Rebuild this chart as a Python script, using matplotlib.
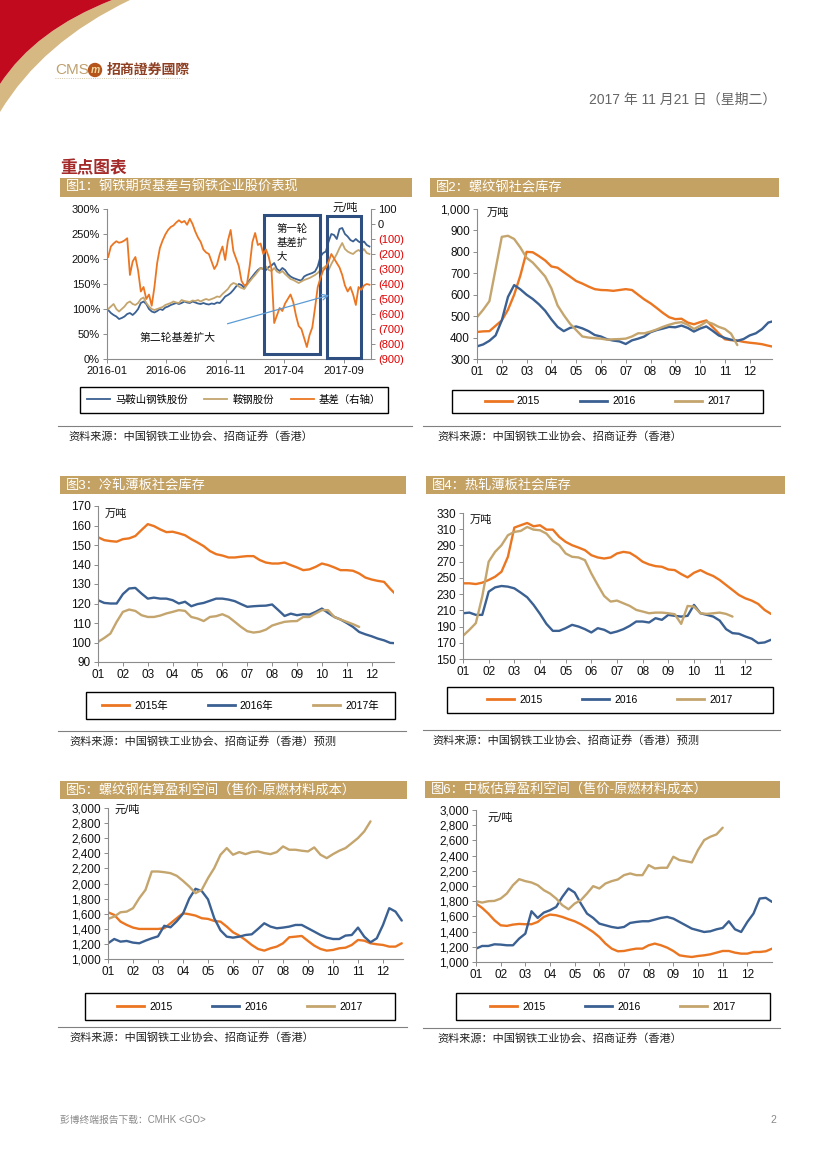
import numpy as np
import pandas as pd
import matplotlib
matplotlib.use('Agg')
import matplotlib.pyplot as plt
import matplotlib.patches as mpatches
import matplotlib.dates as mdates
from matplotlib.path import Path
from matplotlib.lines import Line2D
from matplotlib.ticker import MultipleLocator, PercentFormatter, StrMethodFormatter

plt.rcParams['font.family'] = ['Liberation Sans', 'Noto Sans CJK SC']
plt.rcParams['axes.unicode_minus'] = False

# ---- data ----
# fig1: weekly, from 2016-01-04
masteel = [98, 92, 88, 85, 80, 82, 85, 90, 92, 88, 93, 100, 112, 115, 110, 100, 95, 93, 96, 100,
           98, 103, 105, 108, 110, 112, 110, 112, 115, 113, 112, 115, 113, 111, 110, 112, 110, 109, 111, 110,
           113, 112, 118, 125, 128, 132, 138, 145, 150, 148, 142, 150, 158, 165, 172, 178, 182, 180, 178, 184,
           187, 192, 180, 176, 182, 178, 170, 165, 162, 160, 158, 157, 165, 168, 170, 172, 175, 185, 205, 212,
           215, 235, 250, 248, 240, 260, 262, 250, 245, 238, 235, 240, 235, 232, 235, 228, 225]
angang = [100, 105, 110, 100, 95, 100, 105, 112, 115, 110, 108, 112, 120, 123, 112, 105, 100, 98, 100, 102,
          104, 108, 110, 112, 115, 113, 112, 118, 116, 115, 114, 117, 116, 118, 115, 118, 120, 118, 120, 122,
          125, 124, 130, 135, 140, 148, 152, 150, 145, 142, 140, 148, 155, 162, 168, 175, 182, 180, 185, 178,
          176, 182, 175, 172, 176, 170, 165, 160, 158, 155, 152, 155, 158, 160, 162, 165, 168, 172, 178, 182,
          186, 178, 190, 200, 210, 222, 232, 220, 215, 212, 210, 215, 218, 214, 220, 212, 210]
basis = [-220, -150, -130, -115, -125, -120, -110, -95, -340, -250, -220, -310, -450, -420, -500, -470, -545, -420, -260, -160,
         -110, -70, -40, -20, -10, 10, 25, 10, 20, -5, 35, 0, -50, -90, -120, -170, -190, -200, -250, -300,
         -270, -200, -150, -240, -110, -40, -180, -230, -280, -380, -410, -400, -280, -120, -60, -140, -130, -200, -170, -220,
         -300, -660, -610, -560, -580, -530, -500, -470, -520, -610, -680, -700, -760, -820, -740, -690, -560, -420, -360, -310,
         -290, -250, -200, -230, -260, -290, -340, -410, -450, -420, -470, -540, -420, -440, -410, -400, -405]
fig1_labels = ['马鞍山钢铁股份', '鞍钢股份', '基差（右轴）']
fig1_xticks = ['2016-01', '2016-06', '2016-11', '2017-04', '2017-09']

months = ['01', '02', '03', '04', '05', '06', '07', '08', '09', '10', '11', '12']
years = ['2015', '2016', '2017']
years_cn = ['2015年', '2016年', '2017年']

# fig2: rebar inventory (4 points per month)
rebar_2015 = [426, 429, 430, 455, 480, 530, 600, 690, 800, 798, 780, 760, 732, 726, 705, 685, 664, 652, 638, 626,
              622, 621, 618, 622, 626, 622, 600, 578, 560, 538, 515, 495, 486, 488, 470, 462, 472, 480, 450, 420,
              392, 388, 386, 380, 376, 373, 369, 362, 356]
rebar_2016 = [359, 368, 385, 410, 480, 590, 645, 625, 600, 580, 555, 525, 485, 450, 430, 445, 452, 443, 430, 412,
              405, 392, 386, 382, 370, 387, 395, 405, 425, 435, 442, 450, 448, 456, 445, 428, 442, 452, 432, 410,
              398, 390, 385, 393, 410, 420, 440, 470, 478]
rebar_2017 = [495, 530, 570, 720, 870, 875, 860, 820, 772, 750, 718, 685, 630, 550, 505, 465, 435, 405, 400, 397,
              395, 390, 392, 393, 395, 405, 420, 420, 428, 438, 450, 460, 468, 472, 460, 440, 455, 474, 465, 450,
              440, 418, 365]

# fig3: cold-rolled inventory
cr_2015 = [154, 152.5, 152, 151.7, 153, 153.4, 154.6, 157.7, 160.7, 159.7, 158, 156.6, 156.8, 156, 155, 153, 151.3, 149.4, 146.9, 145.3,
           144.6, 143.6, 143.6, 144, 144.3, 144.3, 142.3, 141, 140.5, 140.5, 141, 139.7, 138.5, 137.1, 137.5, 138.8, 140.5, 139.7, 138.5, 137.1,
           137.1, 136.8, 135.4, 133.3, 132.3, 131.6, 131.1, 127.5, 124.3]
cr_2016 = [121.7, 120.3, 120, 120, 124.8, 127.7, 128, 125.1, 122.5, 123, 122.5, 122.5, 121.7, 120, 120.9, 118.6, 119.7, 120.3, 121.4, 122.5,
           122.5, 122, 121.2, 119.7, 118.3, 118.6, 118.8, 118.9, 119.5, 116.6, 113.6, 114.8, 114, 114.5, 114.3, 115.7, 117.4, 115.2, 113.1, 111.8,
           110, 108, 105.4, 104.2, 103.2, 102, 101.1, 99.8, 99.6]
cr_2017 = [100.3, 102.3, 104.6, 110.6, 115.7, 116.9, 116.2, 114, 113.1, 113.1, 113.8, 114.9, 115.7, 116.6, 116.2, 113.1, 112.3, 111, 113.1, 113.5,
           114.5, 113.1, 110.6, 108, 105.8, 105.1, 105.5, 106.6, 108.7, 109.7, 110.6, 110.9, 111, 113.1, 113.1, 114.9, 116.6, 116.6, 113.1, 111.8,
           110.6, 109.4, 108]

# fig4: hot-rolled inventory
hr_2015 = [243.3, 243.3, 242.4, 244.1, 247.4, 251.4, 257.6, 276, 312, 314.9, 317.7, 313.6, 314.9, 309.5, 309.5, 300.5, 294.4, 290.3, 287.4, 284.2,
           278, 275.2, 273.9, 275.2, 280.1, 282.1, 280.9, 276, 269.9, 266.6, 264.5, 263.7, 260.4, 259.6, 254.7, 250.6, 256.3, 259.6, 255.5, 252.3,
           247.4, 241.2, 235.1, 228.9, 224.8, 222, 217.9, 210.5, 205.6]
hr_2016 = [206.4, 207.2, 204.4, 204.4, 233, 238.3, 240, 239.2, 237.1, 231.8, 226.1, 216.7, 205.6, 193.3, 184.7, 184.7, 188, 192.1, 190, 186.8,
           182.7, 188, 186, 181.9, 183.9, 186.8, 190.9, 196.2, 196.2, 195, 200.3, 198.3, 204.4, 203.2, 202.3, 203.2, 216.7, 206.4, 204.4, 202.3,
           197.4, 186.8, 181.9, 181.1, 177.8, 175, 169.6, 170.4, 173.7]
hr_2017 = [178.6, 186, 194.2, 227, 270, 282.1, 290.3, 302.6, 306.7, 307.9, 312.8, 309.5, 308.7, 304.6, 295.6, 290.3, 280.1, 276, 275.2, 271.9,
           255.5, 241.2, 227.7, 220.8, 222, 218.7, 215.4, 210.5, 208.5, 206.4, 207.2, 207.2, 206.4, 205.2, 193.3, 215.4, 214.6, 206.4, 205.6, 206.4,
           207.2, 205.6, 202.3]

# fig5: rebar margin
p5_2015 = [1619, 1584, 1495, 1451, 1416, 1398, 1398, 1398, 1398, 1407, 1473, 1540, 1606, 1593, 1575, 1540, 1531, 1504, 1495, 1429,
           1354, 1310, 1252, 1186, 1133, 1111, 1142, 1164, 1208, 1288, 1296, 1305, 1239, 1177, 1133, 1111, 1120, 1142, 1150, 1186,
           1252, 1243, 1208, 1195, 1186, 1164, 1164, 1208]
p5_2016 = [1208, 1265, 1230, 1239, 1217, 1208, 1243, 1274, 1300, 1440, 1420, 1500, 1600, 1800, 1930, 1900, 1790, 1540, 1380, 1296,
           1283, 1296, 1318, 1327, 1398, 1473, 1429, 1407, 1416, 1429, 1451, 1451, 1407, 1363, 1318, 1283, 1265, 1265, 1310, 1318,
           1416, 1296, 1221, 1274, 1451, 1673, 1628, 1509]
p5_2017 = [1531, 1562, 1619, 1628, 1673, 1805, 1916, 2159, 2159, 2150, 2137, 2102, 2035, 1960, 1872, 1916, 2071, 2204, 2381, 2469,
           2381, 2416, 2389, 2416, 2425, 2403, 2389, 2416, 2491, 2447, 2447, 2434, 2425, 2478, 2381, 2336, 2389, 2434, 2469, 2535,
           2602, 2690, 2823]

# fig6: plate margin
p6_2015 = [1769, 1712, 1637, 1549, 1483, 1475, 1492, 1501, 1497, 1497, 1527, 1593, 1624, 1615, 1593, 1563, 1536, 1497, 1448, 1395,
           1329, 1242, 1176, 1141, 1145, 1162, 1176, 1176, 1220, 1242, 1220, 1189, 1145, 1088, 1075, 1066, 1079, 1088, 1101, 1123,
           1145, 1145, 1123, 1110, 1110, 1132, 1132, 1141, 1176]
p6_2016 = [1176, 1211, 1211, 1233, 1229, 1220, 1220, 1308, 1373, 1668, 1580, 1650, 1681, 1725, 1857, 1967, 1914, 1769, 1637, 1580,
           1505, 1483, 1461, 1448, 1461, 1514, 1527, 1536, 1536, 1558, 1580, 1593, 1571, 1527, 1483, 1439, 1417, 1395, 1404, 1430,
           1448, 1536, 1430, 1395, 1527, 1637, 1835, 1844, 1791]
p6_2017 = [1800, 1782, 1800, 1804, 1835, 1901, 2011, 2090, 2064, 2046, 2011, 1945, 1901, 1835, 1747, 1694, 1769, 1813, 1901, 1998,
           1967, 2033, 2064, 2086, 2143, 2165, 2143, 2143, 2275, 2231, 2240, 2240, 2385, 2341, 2327, 2310, 2473, 2604, 2648, 2679,
           2767]

ORANGE = '#EB7622'
BLUE = '#3B6092'
TAN = '#C4A56E'
GOLD = '#C4A264'
SPINE = '#8C8C8C'
COLORS = [ORANGE, BLUE, TAN]

W, H = 828, 1169
fig = plt.figure(figsize=(W / 100, H / 100), dpi=100)


def fx(x):
    return x / W


def fy(y):
    return 1 - y / H


def add_ax(l, t, r, b):
    return fig.add_axes([fx(l), fy(b), (r - l) / W, (b - t) / H])


def txt(x, y, s, **kw):
    kw.setdefault('va', 'center')
    return fig.text(fx(x), fy(y), s, **kw)


def rect(l, t, r, b, **kw):
    p = mpatches.Rectangle((fx(l), fy(b)), (r - l) / W, (b - t) / H, transform=fig.transFigure, **kw)
    fig.add_artist(p)


def style(ax):
    for s in ['top', 'right']:
        ax.spines[s].set_visible(False)
    for s in ['left', 'bottom']:
        ax.spines[s].set_color(SPINE)
        ax.spines[s].set_linewidth(0.8)
    ax.tick_params(direction='out', length=3, width=0.7, color=SPINE, labelsize=8.5, pad=2, labelcolor='#111')
    ax.patch.set_alpha(0)


def panel(bar, title, src_line, src, src_x):
    l, t, r, b = bar
    rect(l, t, r, b, color=GOLD, lw=0)
    txt(l + 6, (t + b) / 2, title, color='white', fontsize=9.5)
    fig.add_artist(Line2D([fx(src_line[0]), fx(src_line[1])], [fy(src_line[2])] * 2,
                          color='#808080', lw=0.8, transform=fig.transFigure))
    txt(src_x, src_line[2] + 10, src, fontsize=8, color='#222')


def legend_box(handles, labels, box, handlelength=2.6, colsp=3.8):
    l, t, r, b = box
    rect(l, t, r, b, facecolor='none', edgecolor='black', lw=1)
    fig.legend(handles, labels, loc='center', bbox_to_anchor=(fx((l + r) / 2), fy((t + b) / 2)),
               ncol=3, frameon=False, fontsize=7.5, handlelength=handlelength,
               columnspacing=colsp, handletextpad=0.5, borderaxespad=0)


def month_chart(box, series, ylim, ystep, xmax, unit, unit_xy, leg_box, leg_labels):
    ax = add_ax(*box)
    for vals, c in zip(series, COLORS):
        x = 1 + np.arange(len(vals)) / 4
        ax.plot(x, vals, color=c, lw=1.7, solid_capstyle='round')
    ax.set_xlim(1, xmax)
    ax.set_ylim(*ylim)
    ax.set_yticks(np.arange(ylim[0], ylim[1] + ystep / 2, ystep))
    ax.yaxis.set_major_formatter(StrMethodFormatter('{x:,.0f}'))
    ax.set_xticks(range(1, 13))
    ax.set_xticklabels(months)
    style(ax)
    txt(unit_xy[0], unit_xy[1], unit, fontsize=8, color='#111')
    handles = [Line2D([], [], color=c, lw=2) for c in COLORS]
    legend_box(handles, leg_labels, leg_box)
    return ax


# ---- header ----
def fpath(pts):
    return [(fx(a), fy(b)) for a, b in pts]


red_path = Path(fpath([(0, 0), (112, 0), (35, 30), (0, 84), (0, 0)]),
                [Path.MOVETO, Path.LINETO, Path.CURVE3, Path.CURVE3, Path.CLOSEPOLY])
gold_path = Path(fpath([(112, 0), (130, 0), (42, 42), (0, 112), (0, 84), (35, 30), (112, 0), (112, 0)]),
                 [Path.MOVETO, Path.LINETO, Path.CURVE3, Path.CURVE3, Path.LINETO, Path.CURVE3, Path.CURVE3, Path.CLOSEPOLY])
fig.add_artist(mpatches.PathPatch(gold_path, facecolor='#D6B883', lw=0, transform=fig.transFigure))
fig.add_artist(mpatches.PathPatch(red_path, facecolor='#C10A1E', lw=0, transform=fig.transFigure))

txt(55, 70, 'CMS', fontsize=11, color='#BFA070')
fig.add_artist(mpatches.Ellipse((fx(95), fy(70)), 13 / W, 13 / H, color='#B5541B', transform=fig.transFigure))
txt(95, 70, 'm', fontsize=7.5, color='#F3D9A0', ha='center', style='italic', weight='bold')
txt(107, 70, '招商證券國際', fontsize=10, color='#8E3F22', weight='bold')
fig.add_artist(Line2D([fx(55), fx(183)], [fy(78)] * 2, color='#C9B48A', lw=0.6, ls=':', transform=fig.transFigure))
txt(776, 100, '2017 年 11 月21 日（星期二）', fontsize=10, color='#666', ha='right')
txt(60, 168, '重点图表', fontsize=12, color='#A52A2A', weight='bold')

# ---- figure 1 ----
panel((60, 178, 412, 197), '图1：钢铁期货基差与钢铁企业股价表现', (58, 412, 426),
      '资料来源：中国钢铁工业协会、招商证券（香港）', 68)
d1 = pd.date_range('2016-01-04', periods=len(masteel), freq='7D')
ax1 = add_ax(107, 209, 371, 359)
ax1.plot(d1, np.array(masteel) / 100, color=BLUE, lw=1.3)
ax1.plot(d1, np.array(angang) / 100, color=TAN, lw=1.3)
ax1.set_ylim(0, 3)
ax1.yaxis.set_major_locator(MultipleLocator(0.5))
ax1.yaxis.set_major_formatter(PercentFormatter(1.0, decimals=0))
ax1.set_xlim(pd.Timestamp('2016-01-01'), pd.Timestamp('2017-11-10'))
ax1.set_xticks([pd.Timestamp(s + '-01') for s in fig1_xticks])
ax1.set_xticklabels(fig1_xticks)
style(ax1)
ax1.tick_params(labelsize=8)
ax1b = ax1.twinx()
ax1b.plot(d1, basis, color=ORANGE, lw=1.3)
ax1b.set_ylim(-900, 100)
rticks = list(range(100, -1000, -100))
ax1b.set_yticks(rticks)
ax1b.set_yticklabels([f'({-v})' if v < 0 else str(v) for v in rticks])
for lab, v in zip(ax1b.get_yticklabels(), rticks):
    lab.set_color('#E00000' if v < 0 else '#111')
for s in ['top', 'left', 'bottom']:
    ax1b.spines[s].set_visible(False)
ax1b.spines['right'].set_color(SPINE)
ax1b.spines['right'].set_linewidth(0.8)
ax1b.tick_params(direction='out', length=3, width=0.7, color=SPINE, labelsize=8, pad=2)

box_c = '#2F4F80'
for x0, x1, y0, y1 in [('2017-02-08', '2017-07-03', 0.10, 2.88), ('2017-07-20', '2017-10-16', 0.02, 2.86)]:
    a, b = mdates.date2num(pd.Timestamp(x0)), mdates.date2num(pd.Timestamp(x1))
    ax1b.add_patch(mpatches.Rectangle((a, y0), b - a, y1 - y0, transform=ax1.transData,
                                      fill=False, edgecolor=box_c, lw=2.2, clip_on=False))
txt(277, 243, '第一轮\n基差扩\n大', fontsize=7.5, color='#111', linespacing=1.45)
txt(140, 338, '第二轮基差扩大', fontsize=7.8, color='#111')
ax1b.annotate('', xy=(pd.Timestamp('2017-08-01'), -470), xytext=(pd.Timestamp('2016-10-30'), -670),
              arrowprops=dict(arrowstyle='->', color='#5B9BD5', lw=0.9))
txt(333, 208, '元/吨', fontsize=8, color='#111')
legend_box(ax1.get_lines() + ax1b.get_lines(), fig1_labels, (80, 387, 388, 413), handlelength=2.2, colsp=1.6)

# ---- figure 2 ----
panel((430, 178, 779, 197), '图2：螺纹钢社会库存', (423, 780, 426),
      '资料来源：中国钢铁工业协会、招商证券（香港）', 437)
month_chart((477, 209, 772, 359), [rebar_2015, rebar_2016, rebar_2017], (300, 1000), 100, 12.9,
            '万吨', (487, 213), (452, 390, 763, 413), years)

# ---- figure 3 ----
panel((60, 476, 406, 494), '图3：冷轧薄板社会库存', (58, 406, 731),
      '资料来源：中国钢铁工业协会、招商证券（香港）预测', 69)
month_chart((98, 506, 394, 662), [cr_2015, cr_2016, cr_2017], (90, 170), 10, 12.9,
            '万吨', (105, 514), (86, 692, 395, 719), years_cn)

# ---- figure 4 ----
panel((426, 476, 785, 494), '图4：热轧薄板社会库存', (423, 780, 730),
      '资料来源：中国钢铁工业协会、招商证券（香港）预测', 432)
month_chart((463, 513, 771, 659), [hr_2015, hr_2016, hr_2017], (150, 330), 20, 13,
            '万吨', (470, 520), (447, 687, 773, 713), years)

# ---- figure 5 ----
panel((60, 781, 407, 799), '图5：螺纹钢估算盈利空间（售价-原燃材料成本）', (58, 407, 1027),
      '资料来源：中国钢铁工业协会、招商证券（香港）', 69)
month_chart((108, 808, 403, 959), [p5_2015, p5_2016, p5_2017], (1000, 3000), 200, 12.8,
            '元/吨', (115, 810), (85, 993, 395, 1020), years)

# ---- figure 6 ----
panel((425, 781, 780, 798), '图6：中板估算盈利空间（售价-原燃材料成本）', (423, 780, 1028),
      '资料来源：中国钢铁工业协会、招商证券（香港）', 437)
month_chart((476, 810, 772, 962), [p6_2015, p6_2016, p6_2017], (1000, 3000), 200, 13,
            '元/吨', (488, 818), (456, 993, 770, 1020), years)

# ---- footer ----
txt(60, 1120, '彭博终端报告下载：CMHK <GO>', fontsize=7, color='#888')
txt(776, 1120, '2', fontsize=7.5, color='#888', ha='right')

fig.savefig('out.png', dpi=100)
